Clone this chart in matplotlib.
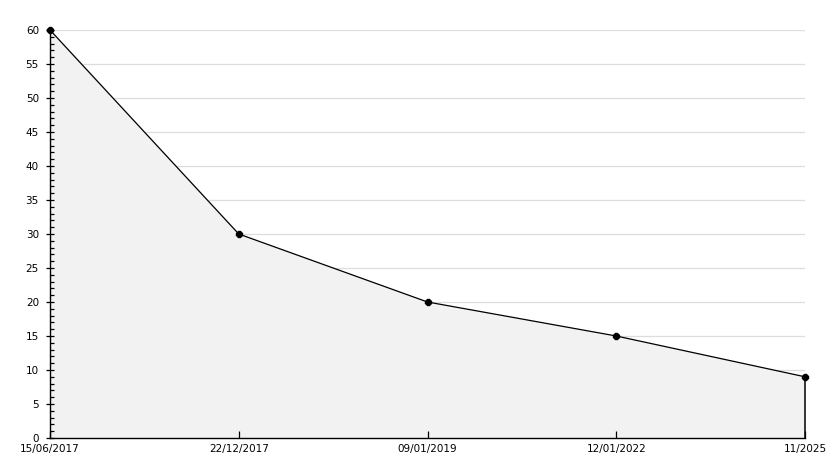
import matplotlib
matplotlib.use("Agg")
import matplotlib.pyplot as plt
from matplotlib.ticker import MultipleLocator

categories = ["15/06/2017", "22/12/2017", "09/01/2019", "12/01/2022", "11/2025"]
values = [60, 30, 20, 15, 9]
y_ticks = list(range(0, 61, 5))

fig = plt.figure(figsize=(8.34, 4.68), dpi=100)
ax = fig.add_axes([50/834, 1-438/468, 755/834, 408/468])

x = list(range(len(categories)))
ax.fill_between(x, values, 0, color="#f2f2f2", zorder=1)
ax.plot(x, values, color="black", lw=0.9, zorder=3, clip_on=False)
ax.plot(x, values, linestyle="none", marker="8", ms=5, color="black", zorder=6, clip_on=False)
ax.vlines(x[-1], 0, values[-1], color="black", lw=1.1, zorder=5, clip_on=False)

for t in y_ticks[1:]:
    ax.axhline(t, color="#dddddd", lw=0.9, zorder=0.5)

ax.set_xlim(0, len(categories) - 1)
ax.set_ylim(0, 60)
ax.set_xticks(x)
ax.set_xticklabels(categories, fontsize=7.5)
ax.set_yticks(y_ticks)
ax.set_yticklabels([str(t) for t in y_ticks], fontsize=7.5)
ax.yaxis.set_minor_locator(MultipleLocator(1))
ax.tick_params(axis="y", which="major", direction="inout", length=6, width=0.9, pad=5)
ax.tick_params(axis="y", which="minor", direction="in", length=3, width=0.9)
ax.tick_params(axis="x", which="major", direction="in", length=5, width=0.9, pad=4)
for s in ["top", "right"]:
    ax.spines[s].set_visible(False)
for s in ["left", "bottom"]:
    ax.spines[s].set_linewidth(1)
    ax.spines[s].set_zorder(5)
ax.set_facecolor("white")

fig.savefig("out.png", dpi=100)
